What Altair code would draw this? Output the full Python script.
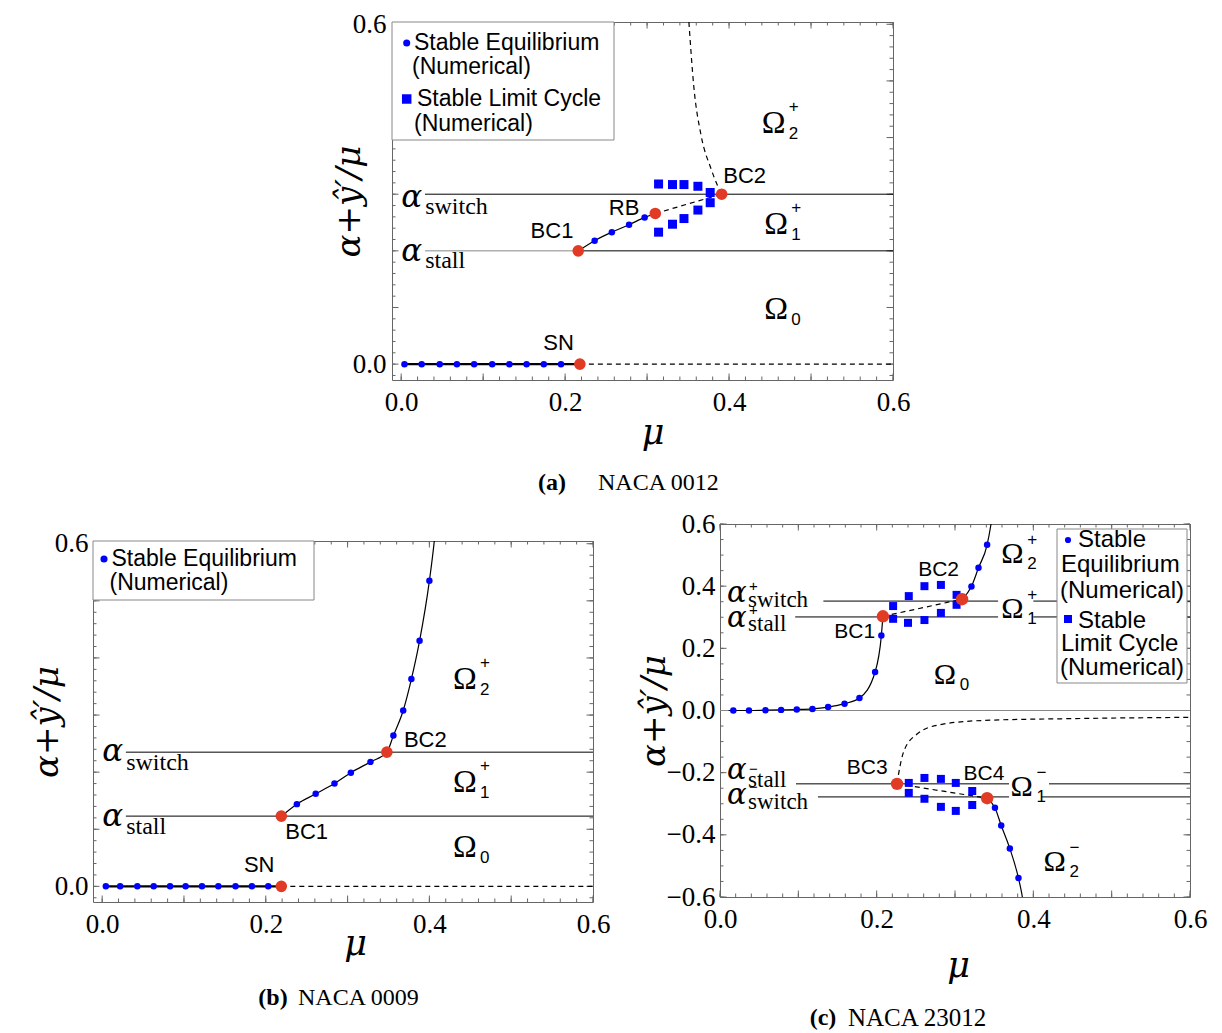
import altair as alt
import pandas as pd

SERIF = "Liberation Serif"
SANS = "Liberation Sans"
GREEK = "DejaVu Serif"
BLUE = "#0000ff"
RED = "#e23b25"
FRAME = "#666666"
EDGE = "#888888"

# ---------------- (a) NACA 0012 ----------------
A_EQ0_MU = [0.004, 0.025, 0.047, 0.068, 0.089, 0.111, 0.132, 0.153, 0.174, 0.195]
A_EQ0_AL = [0.0, 0.0, 0.0, 0.0, 0.0, 0.0, 0.0, 0.0, 0.0, 0.0]
A_EQ1_MU = [0.236, 0.257, 0.278, 0.297]
A_EQ1_AL = [0.218, 0.233, 0.246, 0.259]
A_LC_MU = [0.314, 0.331, 0.345, 0.362, 0.377, 0.377, 0.362, 0.345, 0.331, 0.314]
A_LC_AL = [0.318, 0.317, 0.317, 0.314, 0.303, 0.285, 0.272, 0.257, 0.247, 0.233]
A_BIF_NAME = ["SN", "BC1", "RB", "BC2"]
A_BIF_MU = [0.218, 0.216, 0.310, 0.391]
A_BIF_AL = [0.0, 0.200, 0.266, 0.300]
A_NAME_MU = [0.192, 0.184, 0.272, 0.419]
A_NAME_AL = [0.037, 0.235, 0.276, 0.333]
A_STABLE_MU = [0.216, 0.236, 0.257, 0.278, 0.297, 0.310]
A_STABLE_AL = [0.200, 0.218, 0.233, 0.246, 0.259, 0.266]
A_UNSTABLE_MU = [0.351, 0.357, 0.366, 0.378, 0.386, 0.391]
A_UNSTABLE_AL = [0.604, 0.490, 0.403, 0.345, 0.315, 0.300]
A_ALPHA_NAME = ["switch", "stall"]
A_ALPHA_VAL = [0.300, 0.200]
A_OMEGA_MU = [0.440, 0.443, 0.443]
A_OMEGA_AL = [0.426, 0.247, 0.097]
A_OMEGA_SUB = ["2", "1", "0"]
A_OMEGA_SUP = ["+", "+", ""]

# ---------------- (b) NACA 0009 ----------------
B_EQ0_MU = [0.0045, 0.022, 0.043, 0.063, 0.083, 0.102, 0.122, 0.142, 0.163, 0.183, 0.203]
B_EQ0_AL = [0.0, 0.0, 0.0, 0.0, 0.0, 0.0, 0.0, 0.0, 0.0, 0.0, 0.0]
B_EQ1_MU = [0.238, 0.261, 0.284, 0.304, 0.328, 0.356, 0.368, 0.378, 0.388, 0.400]
B_EQ1_AL = [0.144, 0.162, 0.180, 0.199, 0.218, 0.264, 0.308, 0.363, 0.430, 0.535]
B_BIF_NAME = ["SN", "BC1", "BC2"]
B_BIF_MU = [0.219, 0.219, 0.348]
B_BIF_AL = [0.0, 0.123, 0.235]
B_NAME_MU = [0.192, 0.250, 0.395]
B_NAME_AL = [0.037, 0.095, 0.256]
B_STABLE_MU = [0.219, 0.238, 0.261, 0.284, 0.304, 0.328, 0.348, 0.356, 0.368, 0.378, 0.388, 0.400, 0.406, 0.409]
B_STABLE_AL = [0.123, 0.144, 0.162, 0.180, 0.199, 0.218, 0.235, 0.264, 0.308, 0.363, 0.430, 0.535, 0.605, 0.650]
B_ALPHA_NAME = ["switch", "stall"]
B_ALPHA_VAL = [0.235, 0.123]
B_OMEGA_MU = [0.429, 0.429, 0.429]
B_OMEGA_AL = [0.364, 0.183, 0.069]
B_OMEGA_SUB = ["2", "1", "0"]
B_OMEGA_SUP = ["+", "+", ""]

# ---------------- (c) NACA 23012 ----------------
C_EQ_MU = [0.017, 0.037, 0.058, 0.078, 0.098, 0.118, 0.138, 0.159, 0.178, 0.198, 0.206,
           0.321, 0.330, 0.341, 0.351, 0.359, 0.370, 0.381]
C_EQ_AL = [0.000, 0.000, 0.001, 0.002, 0.003, 0.005, 0.011, 0.022, 0.040, 0.124, 0.241,
           0.399, 0.459, 0.533, -0.313, -0.370, -0.444, -0.539]
C_LC_MU = [0.221, 0.241, 0.261, 0.282, 0.302, 0.302, 0.282, 0.261, 0.240, 0.221,
           0.241, 0.261, 0.282, 0.301, 0.322, 0.322, 0.301, 0.282, 0.261, 0.241]
C_LC_AL = [0.336, 0.368, 0.400, 0.404, 0.372, 0.340, 0.314, 0.291, 0.282, 0.295,
           -0.233, -0.217, -0.220, -0.233, -0.259, -0.304, -0.323, -0.310, -0.284, -0.265]
C_BIF_NAME = ["BC1", "BC2", "BC3", "BC4"]
C_BIF_MU = [0.208, 0.309, 0.226, 0.341]
C_BIF_AL = [0.303, 0.358, -0.236, -0.282]
C_NAME_MU = [0.172, 0.279, 0.188, 0.337]
C_NAME_AL = [0.253, 0.452, -0.186, -0.204]
C_BRANCH1_MU = [0.011, 0.017, 0.037, 0.058, 0.078, 0.098, 0.118, 0.138, 0.159, 0.178, 0.198, 0.206, 0.208]
C_BRANCH1_AL = [0.000, 0.000, 0.000, 0.001, 0.002, 0.003, 0.005, 0.011, 0.022, 0.040, 0.124, 0.241, 0.303]
C_BRANCH2_MU = [0.309, 0.321, 0.330, 0.341, 0.346, 0.349]
C_BRANCH2_AL = [0.358, 0.399, 0.459, 0.533, 0.600, 0.650]
C_BRANCH3_MU = [0.341, 0.351, 0.359, 0.370, 0.381, 0.386, 0.389]
C_BRANCH3_AL = [-0.282, -0.313, -0.370, -0.444, -0.539, -0.600, -0.650]
C_UNSTABLE_MU = [0.226, 0.228, 0.235, 0.252, 0.280, 0.336, 0.453, 0.600]
C_UNSTABLE_AL = [-0.236, -0.204, -0.129, -0.075, -0.046, -0.032, -0.026, -0.022]
C_ALPHA_NAME = ["switch", "stall", "stall", "switch"]
C_ALPHA_SIGN = ["+", "+", "\u2212", "\u2212"]
C_ALPHA_VAL = [0.352, 0.301, -0.236, -0.278]
C_LINE_L1 = [0.132, 0.096, 0.097, 0.125]
C_LINE_R1 = [0.355, 0.355, 0.369, 0.369]
C_LINE_L2 = [0.400, 0.400, 0.420, 0.410]
C_LINE_R2 = [0.600, 0.600, 0.600, 0.600]
C_OMEGA_MU = [0.359, 0.359, 0.273, 0.371, 0.413]
C_OMEGA_AL = [0.502, 0.325, 0.113, -0.245, -0.487]
C_OMEGA_SUB = ["2", "1", "0", "1", "2"]
C_OMEGA_SUP = ["+", "+", "", "\u2212", "\u2212"]

# tick positions
AB_XMAJ = [0.0, 0.1, 0.2, 0.3, 0.4, 0.5, 0.6]
AB_XMIN = [round(0.02 * i, 2) for i in range(31)]
AB_YMAJ = [0.0, 0.1, 0.2, 0.3, 0.4, 0.5, 0.6]
AB_YMIN = [round(-0.02 + 0.02 * i, 2) for i in range(32)]
C_XMAJ = AB_XMAJ
C_XMIN = AB_XMIN
C_YMAJ = [-0.6, -0.4, -0.2, 0.0, 0.2, 0.4, 0.6]
C_YMIN = [round(-0.6 + 0.05 * i, 2) for i in range(25)]

DUMMY = pd.DataFrame({"v": [0.0]})
YTITLE = "\u03b1+\u0177\u2032/\u03bc"
LABEL_SIZE = 27


class P:
    """Scales and axes shared by every layer of one panel."""

    def __init__(self, xdom, ydom, xvals, yvals, W, H, ytx, xtx, xty, ylp):
        self.sx = alt.Scale(domain=xdom, nice=False, zero=False)
        self.sy = alt.Scale(domain=ydom, nice=False, zero=False)
        self.W, self.H = W, H
        self.ax = alt.Axis(values=xvals, format=".1f", labelFont=SERIF, labelFontSize=LABEL_SIZE,
                           labelColor="black", labelPadding=9, labelFlush=False,
                           labelOverlap=False, ticks=False, tickSize=0, domain=False, grid=False,
                           title="\u03bc", titleFont=GREEK, titleFontSize=35,
                           titleFontStyle="italic", titleFontWeight="normal", titleColor="black",
                           titleX=xtx, titleY=xty, titleBaseline="middle", titleAlign="center")
        self.ay = alt.Axis(values=yvals, format=".1f", labelFont=SERIF, labelFontSize=LABEL_SIZE,
                           labelColor="black", labelPadding=ylp, labelFlush=False,
                           labelOverlap=False, ticks=False, tickSize=0, domain=False, grid=False,
                           title=YTITLE, titleFont=GREEK, titleFontSize=34,
                           titleFontStyle="italic", titleFontWeight="normal", titleColor="black",
                           titleX=ytx, titleY=H / 2, titleAngle=270, titleBaseline="middle",
                           titleAlign="center")

    def X(self, f):
        return alt.X(f, type="quantitative", scale=self.sx, axis=self.ax)

    def Y(self, f):
        return alt.Y(f, type="quantitative", scale=self.sy, axis=self.ay)

    def xy(self):
        return dict(x=self.X("mu"), y=self.Y("al"))


def points(p, mu, al, shape, size, color):
    df = pd.DataFrame({"mu": mu, "al": al})
    return alt.Chart(df).mark_point(shape=shape, size=size, filled=True, opacity=1,
                                    color=color, strokeWidth=0).encode(**p.xy())


def curve(p, mu, al, dashed=False, width=1.2, color="black", interp="monotone"):
    df = pd.DataFrame({"mu": mu, "al": al})
    kw = dict(color=color, strokeWidth=width, interpolate=interp, clip=True)
    if dashed:
        kw["strokeDash"] = [5, 4]
    return alt.Chart(df).mark_line(**kw).encode(**p.xy())


def hrule(p, m1, m2, al, color="black", width=1.0):
    df = pd.DataFrame({"mu": m1, "m2": m2, "al": al})
    return alt.Chart(df).mark_rule(color=color, strokeWidth=width).encode(
        x=p.X("mu"), x2="m2:Q", y=p.Y("al"))


def frame_ticks(p, xmaj, xmin, ymaj, ymin):
    out = []
    W, H = p.W, p.H
    for vals, L in ((xmin, 3.5), (xmaj, 6.5)):
        base = alt.Chart(pd.DataFrame({"v": vals})).mark_rule(color=FRAME, strokeWidth=1)
        out.append(base.encode(x=p.X("v"), y=alt.value(H), y2=alt.value(H - L)))
        out.append(base.encode(x=p.X("v"), y=alt.value(0), y2=alt.value(L)))
    for vals, L in ((ymin, 3.5), (ymaj, 6.5)):
        base = alt.Chart(pd.DataFrame({"v": vals})).mark_rule(color=FRAME, strokeWidth=1)
        out.append(base.encode(y=p.Y("v"), x=alt.value(0), x2=alt.value(L)))
        out.append(base.encode(y=p.Y("v"), x=alt.value(W), x2=alt.value(W - L)))
    return out


def dtext(p, mu, al, texts, size, font, align="center", dx=0, dy=0, style="normal"):
    df = pd.DataFrame({"mu": mu, "al": al, "t": texts})
    return alt.Chart(df).mark_text(font=font, fontSize=size, align=align, baseline="middle",
                                   dx=dx, dy=dy, fontStyle=style, color="black").encode(
        text="t:N", **p.xy())


def ptext(x, y, s, size, font=SANS, align="left", weight="normal"):
    return alt.Chart(DUMMY).mark_text(text=s, font=font, fontSize=size, align=align,
                                      baseline="middle", fontWeight=weight, color="black").encode(
        x=alt.value(x), y=alt.value(y))


def psym(x, y, shape, size):
    return alt.Chart(DUMMY).mark_point(shape=shape, size=size, filled=True, opacity=1,
                                       color=BLUE, strokeWidth=0).encode(x=alt.value(x), y=alt.value(y))


def pbox(x1, y1, x2, y2):
    return alt.Chart(DUMMY).mark_rect(fill="white", stroke=EDGE, strokeWidth=1).encode(
        x=alt.value(x1), x2=alt.value(x2), y=alt.value(y1), y2=alt.value(y2))


def omega(p, mu, al, sub, sup, size, dx, dys, dyp):
    return [dtext(p, mu, al, ["\u03a9"] * len(mu), size, SERIF, align="left"),
            dtext(p, mu, al, sub, 17, SANS, align="left", dx=dx, dy=dys),
            dtext(p, mu, al, sup, 17, SANS, align="left", dx=dx, dy=dyp)]


# ---------------- panel (a) ----------------
def panel_a():
    p = P([-0.0112, 0.6], [-0.028, 0.604], [0.0, 0.2, 0.4, 0.6], [0.0, 0.6],
          501, 358, -43, 501 / 2 + 10, 52, 6)
    L = frame_ticks(p, AB_XMAJ, AB_XMIN, AB_YMAJ, AB_YMIN)
    L.append(hrule(p, [0.029], [A_BIF_MU[1]], [A_ALPHA_VAL[1]], color=EDGE))
    L.append(hrule(p, [A_BIF_MU[1], 0.029], [0.6, 0.6], [A_ALPHA_VAL[1], A_ALPHA_VAL[0]]))
    L.append(curve(p, [A_EQ0_MU[0], A_BIF_MU[0]], [0.0, 0.0], width=2.2, interp="linear"))
    L.append(curve(p, [A_BIF_MU[0], 0.6], [0.0, 0.0], dashed=True, interp="linear"))
    L.append(curve(p, A_STABLE_MU, A_STABLE_AL))
    L.append(curve(p, A_UNSTABLE_MU, A_UNSTABLE_AL, dashed=True))
    L.append(curve(p, A_BIF_MU[2:4], A_BIF_AL[2:4], dashed=True, interp="linear"))
    L.append(points(p, A_LC_MU, A_LC_AL, "square", 81, BLUE))
    L.append(points(p, A_EQ0_MU + A_EQ1_MU, A_EQ0_AL + A_EQ1_AL, "circle", 42, BLUE))
    L.append(points(p, A_BIF_MU, A_BIF_AL, "circle", 135, RED))
    L.append(dtext(p, A_NAME_MU, A_NAME_AL, A_BIF_NAME, 22, SANS))
    L += omega(p, A_OMEGA_MU, A_OMEGA_AL, A_OMEGA_SUB, A_OMEGA_SUP, 32, 27, 11, -16)
    for name, val, dya, dys in zip(A_ALPHA_NAME, A_ALPHA_VAL, [4, 1], [13, 10]):
        L.append(dtext(p, [0.0], [val], ["\u03b1"], 31, GREEK, align="left", dy=dya, style="italic"))
        L.append(dtext(p, [0.0], [val], [name], 24, SERIF, align="left", dx=24, dy=dys))
    L.append(pbox(0, 0, 222, 118))
    L.append(psym(14.7, 21, "circle", 50))
    L.append(ptext(22, 21, "Stable Equilibrium", 23))
    L.append(ptext(20, 45, "(Numerical)", 23))
    L.append(psym(14.7, 77, "square", 90))
    L.append(ptext(25, 77, "Stable Limit Cycle", 23))
    L.append(ptext(22, 102, "(Numerical)", 23))
    L.append(ptext(160, 461, "(a)", 24, SERIF, align="center", weight="bold"))
    L.append(ptext(206, 461, "NACA 0012", 24, SERIF))
    L.append(alt.Chart(DUMMY).mark_rule(strokeOpacity=0, strokeWidth=1).encode(
        x=alt.value(10), x2=alt.value(11), y=alt.value(-13.5)))
    return alt.layer(*L).properties(width=p.W, height=p.H)


# ---------------- panel (b) ----------------
def panel_b():
    p = P([-0.0112, 0.6], [-0.0274, 0.6048], [0.0, 0.2, 0.4, 0.6], [0.0, 0.6],
          500, 361, -46, 500 / 2 + 12, 41, 5)
    L = frame_ticks(p, AB_XMAJ, AB_XMIN, AB_YMAJ, AB_YMIN)
    L.append(hrule(p, [0.029, 0.029], [0.6, 0.6], B_ALPHA_VAL))
    L.append(curve(p, [B_EQ0_MU[0], B_BIF_MU[0]], [0.0, 0.0], width=2.2, interp="linear"))
    L.append(curve(p, [B_BIF_MU[0], 0.6], [0.0, 0.0], dashed=True, interp="linear"))
    L.append(curve(p, B_STABLE_MU, B_STABLE_AL))
    L.append(points(p, B_EQ0_MU + B_EQ1_MU, B_EQ0_AL + B_EQ1_AL, "circle", 42, BLUE))
    L.append(points(p, B_BIF_MU, B_BIF_AL, "circle", 135, RED))
    L.append(dtext(p, B_NAME_MU, B_NAME_AL, B_BIF_NAME, 22, SANS))
    L += omega(p, B_OMEGA_MU, B_OMEGA_AL, B_OMEGA_SUB, B_OMEGA_SUP, 32, 27, 11, -16)
    for name, val, dya, dys in zip(B_ALPHA_NAME, B_ALPHA_VAL, [0, 1], [11, 11]):
        L.append(dtext(p, [0.0], [val], ["\u03b1"], 31, GREEK, align="left", dy=dya, style="italic"))
        L.append(dtext(p, [0.0], [val], [name], 24, SERIF, align="left", dx=24, dy=dys))
    L.append(pbox(0, 0, 221, 59))
    L.append(psym(11, 18, "circle", 50))
    L.append(ptext(18.5, 18, "Stable Equilibrium", 23))
    L.append(ptext(16.5, 42, "(Numerical)", 23))
    L.append(ptext(180, 457, "(b)", 24, SERIF, align="center", weight="bold"))
    L.append(ptext(205, 457, "NACA 0009", 24, SERIF))
    L.append(alt.Chart(DUMMY).mark_rule(strokeOpacity=0, strokeWidth=1).encode(
        x=alt.value(-84.5), y=alt.value(100), y2=alt.value(101)))
    return alt.layer(*L).properties(width=p.W, height=p.H)


# ---------------- panel (c) ----------------
def panel_c():
    p = P([0.0, 0.6], [-0.6, 0.6], [0.0, 0.2, 0.4, 0.6], C_YMAJ,
          470, 373, -66, 470 / 2 + 3, 68, 5)
    L = frame_ticks(p, C_XMAJ, C_XMIN, C_YMAJ, C_YMIN)
    L.append(hrule(p, [0.0], [0.6], [0.0], color=EDGE))
    L.append(hrule(p, C_LINE_L1, C_LINE_R1, C_ALPHA_VAL))
    L.append(hrule(p, C_LINE_L2, C_LINE_R2, C_ALPHA_VAL))
    L.append(curve(p, C_BRANCH1_MU, C_BRANCH1_AL))
    L.append(curve(p, C_BRANCH2_MU, C_BRANCH2_AL))
    L.append(curve(p, C_BRANCH3_MU, C_BRANCH3_AL))
    L.append(curve(p, C_UNSTABLE_MU, C_UNSTABLE_AL, dashed=True))
    L.append(curve(p, C_BIF_MU[0:2], C_BIF_AL[0:2], dashed=True, interp="linear"))
    L.append(curve(p, C_BIF_MU[2:4], C_BIF_AL[2:4], dashed=True, interp="linear"))
    L.append(points(p, C_LC_MU, C_LC_AL, "square", 64, BLUE))
    L.append(points(p, C_EQ_MU, C_EQ_AL, "circle", 42, BLUE))
    L.append(points(p, C_BIF_MU, C_BIF_AL, "circle", 155, RED))
    L.append(dtext(p, C_NAME_MU, C_NAME_AL, C_BIF_NAME, 21, SANS))
    L += omega(p, C_OMEGA_MU, C_OMEGA_AL, C_OMEGA_SUB, C_OMEGA_SUP, 30, 26, 10, -14)
    offs = [(-8, -1, -15), (1, 7, -7), (-14, -4, -15), (-2, 5, -10)]
    for name, sign, val, (dya, dys, dyp) in zip(C_ALPHA_NAME, C_ALPHA_SIGN, C_ALPHA_VAL, offs):
        L.append(dtext(p, [0.009], [val], ["\u03b1"], 29, GREEK, align="left", dy=dya, style="italic"))
        L.append(dtext(p, [0.009], [val], [name], 23, SERIF, align="left", dx=21, dy=dys))
        L.append(dtext(p, [0.009], [val], [sign], 15, SANS, align="left", dx=22, dy=dyp))
    L.append(pbox(337, 5, 467, 159))
    L.append(psym(348, 16, "circle", 38))
    L.append(ptext(358, 16, "Stable", 24))
    L.append(ptext(341, 41, "Equilibrium", 24))
    L.append(ptext(340, 67, "(Numerical)", 24))
    L.append(psym(348, 95, "square", 64))
    L.append(ptext(358, 97, "Stable", 24))
    L.append(ptext(341, 120, "Limit Cycle", 24))
    L.append(ptext(340, 144, "(Numerical)", 24))
    L.append(ptext(103, 494, "(c)", 24, SERIF, align="center", weight="bold"))
    L.append(ptext(128, 494, "NACA 23012", 25, SERIF))
    return alt.layer(*L).properties(width=p.W, height=p.H)


# Nested concat groups count as zero size under "flush" bounds, so the
# spacings below carry the full offsets between panels.
spacer_a = alt.Chart(DUMMY).mark_point(opacity=0).properties(
    width=299, height=10, view=alt.ViewBackground(stroke="transparent"))
spacer_b = alt.Chart(DUMMY).mark_point(opacity=0).properties(
    width=10, height=17, view=alt.ViewBackground(stroke="transparent"))

top = alt.hconcat(spacer_a, panel_a(), spacing=0, bounds="flush")
left_b = alt.vconcat(spacer_b, panel_b(), spacing=0, bounds="flush")
bottom = alt.hconcat(left_b, panel_c(), spacing=627, bounds="flush")

chart = alt.vconcat(top, bottom, spacing=502, bounds="flush").properties(
    padding={"left": 0, "top": 0, "right": 5, "bottom": 0}
).configure_view(stroke=FRAME, strokeWidth=1)

chart.save("out.html", embed_options={"renderer": "svg", "actions": False})
